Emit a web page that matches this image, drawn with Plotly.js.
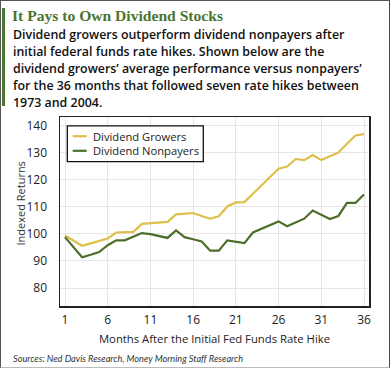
<!DOCTYPE html>
<html>
<head>
<meta charset="utf-8">
<script src="https://cdn.plot.ly/plotly-3.0.1.min.js"></script>
<style>
html,body{margin:0;padding:0;background:#fff;}
#wrap{position:relative;width:390px;height:368px;overflow:hidden;}
#chart{position:absolute;left:0;top:0;width:390px;height:368px;}
#frame{position:absolute;left:0;top:0;width:390px;height:368px;box-sizing:border-box;border:1px solid #555;border-bottom-color:#bbb;border-right-color:#444;pointer-events:none;}
#bar{position:absolute;left:2px;top:8px;width:3px;height:98px;background:#4b7431;pointer-events:none;}
</style>
</head>
<body>
<div id="wrap">
<div id="chart"></div>
<div id="frame"></div>
<div id="bar"></div>
</div>
<script>
// Data
var months = [1,2,3,4,5,6,7,8,9,10,11,12,13,14,15,16,17,18,19,20,21,22,23,24,25,26,27,28,29,30,31,32,33,34,35,36];
var growers = [99.4,97.5,95.6,96.5,97.4,98.3,100.5,100.6,100.7,103.7,103.9,104.1,104.4,107.2,107.4,107.7,106.6,105.6,106.5,110.1,111.6,111.7,114.8,117.8,120.9,124.0,124.8,127.6,127.2,129.1,127.2,128.6,130.0,133.2,136.3,136.8];
var nonpayers = [98.8,95.1,91.4,92.3,93.3,95.8,97.6,97.6,98.9,100.3,99.9,99.2,98.5,101.3,98.8,98.0,97.2,93.8,93.8,97.6,97.1,96.6,100.5,101.9,103.2,104.6,102.8,104.2,105.6,108.6,107.0,105.5,106.6,111.4,111.4,114.5];
var xTicks = [1,6,11,16,21,26,31,36];
var yTicks = [80,90,100,110,120,130,140];
var seriesNames = ["Dividend Growers","Dividend Nonpayers"];
var seriesColors = ['#dfbf4a', '#4b6e2b'];
var titleText = "It Pays to Own Dividend Stocks";
var subtitleLines = [
  "Dividend growers outperform dividend nonpayers after",
  "initial federal funds rate hikes. Shown below are the",
  "dividend growers\u2019 average performance versus nonpayers\u2019",
  "for the 36 months that followed seven rate hikes between",
  "1973 and 2004."
];
var sourceText = "Sources: Ned Davis Research, Money Morning Staff Research";
var xTitle = "Months After the Initial Fed Funds Rate Hike";
var yTitle = "Indexed Returns";

// layout geometry (pixels)
var W = 390, H = 368, L = 60, R = 21, T = 117, B = 62;
var pw = W - L - R, ph = H - T - B;
function px(x){ return (x - L) / pw; }
function py(y){ return (H - B - y) / ph; }

var traces = [
  {x: months, y: growers, name: seriesNames[0], type: 'scatter', mode: 'lines',
   line: {color: seriesColors[0], width: 2.2}},
  {x: months, y: nonpayers, name: seriesNames[1], type: 'scatter', mode: 'lines',
   line: {color: seriesColors[1], width: 2.2}}
];

var annotations = [];
var shapes = [];
var subFont = {family: 'Open Sans, sans-serif', size: 12.4, color: '#111', weight: 600};
for (var i = 0; i < subtitleLines.length; i++) {
  var baseline = 39.3 + i * 16.85;
  annotations.push({
    xref: 'paper', yref: 'paper', x: px(11), y: py(baseline - 4.5), xanchor: 'left', yanchor: 'middle',
    text: subtitleLines[i], showarrow: false, align: 'left', font: subFont
  });
}
annotations.push({
  xref: 'paper', yref: 'paper', x: px(11), y: py(358.7), xanchor: 'left', yanchor: 'middle',
  text: '<i>' + sourceText + '</i>', showarrow: false, align: 'left',
  font: {family: 'Lato, sans-serif', size: 9.2, color: '#333'}
});
annotations.push({
  xref: 'paper', yref: 'paper', x: px(20), y: py(203.5), xanchor: 'center', yanchor: 'middle',
  text: yTitle, textangle: -90, showarrow: false,
  font: {family: 'Open Sans, sans-serif', size: 11, color: '#333'}
});

// legend box (drawn as layout decoration)
shapes.push({type: 'rect', xref: 'paper', yref: 'paper',
  x0: px(67.3), x1: px(203.3), y0: py(161.7), y1: py(125.9),
  line: {color: '#111', width: 1.3}, fillcolor: '#fff', layer: 'above'});
var legendRows = [136.2, 150.8];
for (var k = 0; k < seriesNames.length; k++) {
  shapes.push({type: 'line', xref: 'paper', yref: 'paper',
    x0: px(72.7), x1: px(86.7), y0: py(legendRows[k]), y1: py(legendRows[k]),
    line: {color: seriesColors[k], width: 2.2}, layer: 'above'});
  annotations.push({xref: 'paper', yref: 'paper', x: px(90.5), y: py(legendRows[k]),
    xanchor: 'left', yanchor: 'middle', text: seriesNames[k], showarrow: false,
    font: {family: 'Open Sans, sans-serif', size: 11.2, color: '#222'}});
}

var layout = {
  width: W, height: H,
  margin: {l: L, r: R, t: T, b: B, pad: 0},
  paper_bgcolor: '#fff', plot_bgcolor: '#fff',
  showlegend: false,
  title: {
    text: titleText, xref: 'container', yref: 'container',
    x: 12 / W, xanchor: 'left', y: 1 - 15.5 / H, yanchor: 'middle',
    font: {family: 'Liberation Serif, serif', size: 15.6, color: '#4b7431', weight: 700}
  },
  xaxis: {
    range: [0.415, 36.585], tickvals: xTicks, ticktext: xTicks.map(String),
    showgrid: true, gridcolor: '#e6e6e6', gridwidth: 1,
    showline: true, linecolor: '#222', linewidth: 1.5, mirror: true,
    ticks: '', ticklabelstandoff: 2, zeroline: false,
    tickfont: {family: 'Open Sans, sans-serif', size: 12, color: '#222'},
    title: {text: xTitle, standoff: 8,
            font: {family: 'Open Sans, sans-serif', size: 11.3, color: '#222'}}
  },
  yaxis: {
    range: [73.4, 143.1], tickvals: yTicks, ticktext: yTicks.map(String),
    showgrid: true, gridcolor: '#e6e6e6', gridwidth: 1,
    showline: true, linecolor: '#222', linewidth: 1.5, mirror: true,
    ticks: '', ticklabelstandoff: 9, zeroline: false,
    tickfont: {family: 'Open Sans, sans-serif', size: 12, color: '#222'}
  },
  shapes: shapes,
  annotations: annotations
};

Plotly.newPlot('chart', traces, layout, {staticPlot: true, displayModeBar: false});
</script>
</body>
</html>
